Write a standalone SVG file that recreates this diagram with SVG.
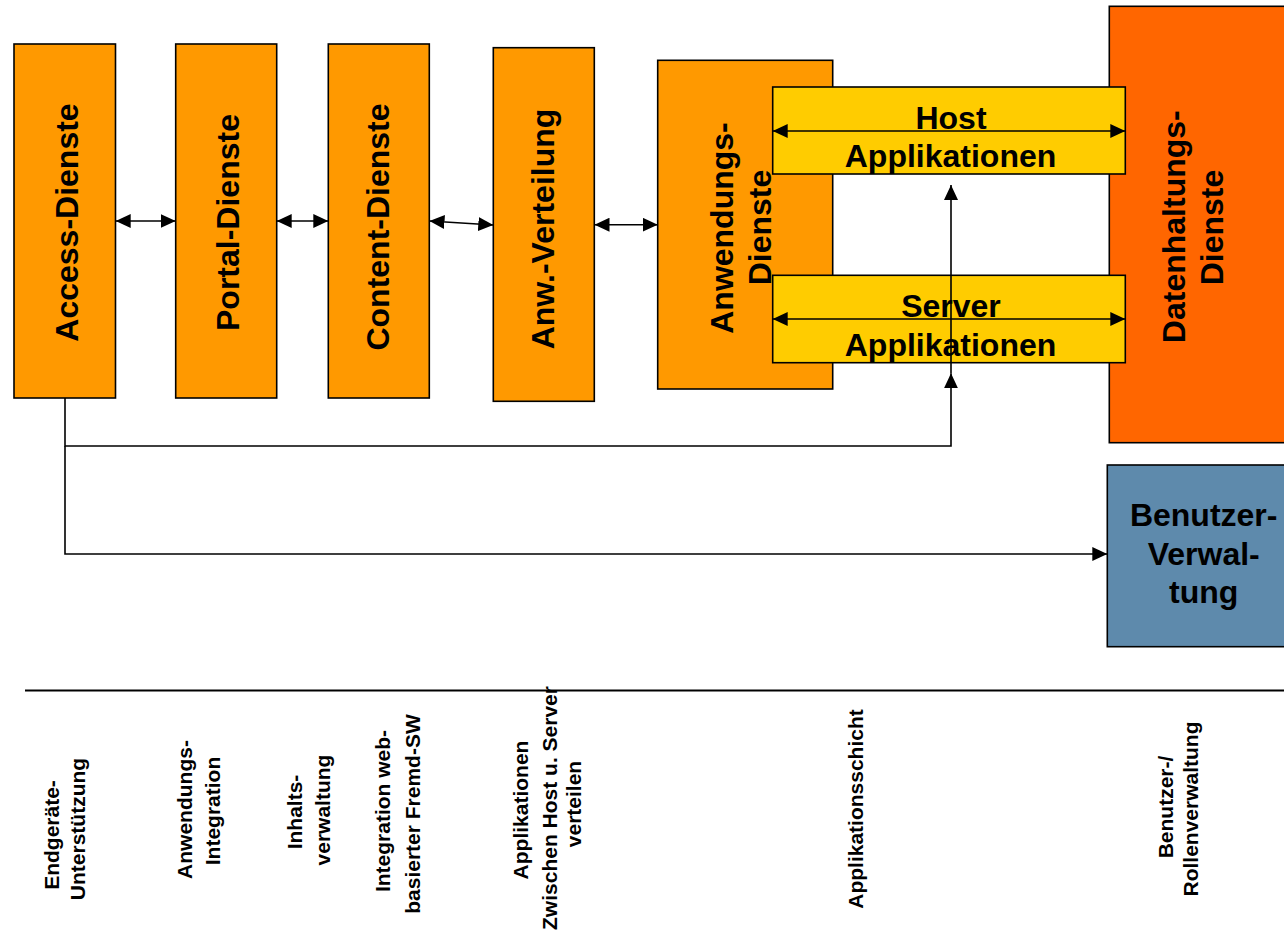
<svg xmlns="http://www.w3.org/2000/svg" width="1284" height="938" viewBox="0 0 1284 938">
  <style>
    .box { stroke: #000; stroke-width: 1.6; }
    .svc { fill: #FF9900; }
    .app { fill: #FFCC00; }
    .data { fill: #FF6600; }
    .user { fill: #5E8AAC; }
    .big { font-family: "Liberation Sans", Arial, sans-serif; font-weight: bold; font-size: 32px; fill: #000; text-anchor: middle; }
    .small { font-family: "Liberation Sans", Arial, sans-serif; font-weight: bold; font-size: 21px; fill: #000; text-anchor: middle; }
    .conn { fill: none; stroke: #000; stroke-width: 1.6; }
  </style>
  <defs>
    <marker id="arrow" markerUnits="userSpaceOnUse" markerWidth="16" markerHeight="14" refX="15" refY="7" orient="auto-start-reverse">
      <path d="M0,0 L15,7 L0,14 z" fill="#000"/>
    </marker>
  </defs>

  <rect width="1284" height="938" fill="#fff"/>

  <g id="access-dienste">
    <rect class="box svc" x="14" y="44" width="101.5" height="354"/>
    <text class="big" transform="translate(78,222.5) rotate(-90)">Access-Dienste</text>
  </g>

  <g id="portal-dienste">
    <rect class="box svc" x="175.7" y="44" width="101" height="354"/>
    <text class="big" transform="translate(239,222.5) rotate(-90)">Portal-Dienste</text>
  </g>

  <g id="content-dienste">
    <rect class="box svc" x="328.3" y="44" width="101" height="354"/>
    <text class="big" transform="translate(389,227) rotate(-90)">Content-Dienste</text>
  </g>

  <g id="anw-verteilung">
    <rect class="box svc" x="493.3" y="47.7" width="101" height="353.6"/>
    <text class="big" transform="translate(554,229) rotate(-90)">Anw.-Verteilung</text>
  </g>

  <g id="anwendungs-dienste">
    <rect class="box svc" x="657.7" y="60.3" width="175" height="328.7"/>
    <text class="big" transform="translate(733,228) rotate(-90)">Anwendungs-</text>
    <text class="big" transform="translate(771,227.5) rotate(-90)">Dienste</text>
  </g>

  <g id="datenhaltungs-dienste">
    <rect class="box data" x="1109.3" y="6.3" width="200" height="436.4"/>
    <text class="big" transform="translate(1185,226.7) rotate(-90)">Datenhaltungs-</text>
    <text class="big" transform="translate(1223,227.5) rotate(-90)">Dienste</text>
  </g>

  <g id="host-applikationen">
    <rect class="box app" x="772.7" y="87" width="352.6" height="87"/>
    <text class="big" x="951" y="129.3">Host</text>
    <text class="big" x="950.5" y="167.3">Applikationen</text>
  </g>

  <g id="server-applikationen">
    <rect class="box app" x="772.7" y="275.3" width="352.6" height="87.4"/>
    <text class="big" x="951" y="316.7">Server</text>
    <text class="big" x="950.5" y="356">Applikationen</text>
  </g>

  <g id="benutzer-verwaltung">
    <rect class="box user" x="1107.3" y="465" width="200" height="181.7"/>
    <text class="big" x="1203.7" y="526">Benutzer-</text>
    <text class="big" x="1203.7" y="565">Verwal-</text>
    <text class="big" x="1203.7" y="603.3">tung</text>
  </g>

  <g id="connectors">
    <line class="conn" x1="115.7" y1="221" x2="175.7" y2="221" marker-start="url(#arrow)" marker-end="url(#arrow)"/>
    <line class="conn" x1="276.7" y1="221" x2="328.3" y2="221" marker-start="url(#arrow)" marker-end="url(#arrow)"/>
    <line class="conn" x1="429.5" y1="221" x2="493.3" y2="225" marker-start="url(#arrow)" marker-end="url(#arrow)"/>
    <line class="conn" x1="594.5" y1="224.7" x2="657.7" y2="224.7" marker-start="url(#arrow)" marker-end="url(#arrow)"/>
    <line class="conn" x1="772.7" y1="131" x2="1125.3" y2="131" marker-start="url(#arrow)" marker-end="url(#arrow)"/>
    <line class="conn" x1="772.7" y1="319" x2="1125.3" y2="319" marker-start="url(#arrow)" marker-end="url(#arrow)"/>
    <polyline class="conn" points="65,398 65,446 951,446 951,373.3" marker-end="url(#arrow)"/>
    <line class="conn" x1="951" y1="373.3" x2="951" y2="185" marker-end="url(#arrow)"/>
    <polyline class="conn" points="65,446 65,554 1107.3,554" marker-end="url(#arrow)"/>
  </g>

  <g id="legend">
    <line x1="25" y1="690.5" x2="1284" y2="690.5" stroke="#000" stroke-width="2"/>
    <text class="small" transform="translate(59,835) rotate(-90)">Endgeräte-</text>
    <text class="small" transform="translate(85,829) rotate(-90)">Unterstützung</text>
    <text class="small" transform="translate(191.7,809.5) rotate(-90)">Anwendungs-</text>
    <text class="small" transform="translate(220,811) rotate(-90)">Integration</text>
    <text class="small" transform="translate(301.7,812) rotate(-90)">Inhalts-</text>
    <text class="small" transform="translate(330,810) rotate(-90)">verwaltung</text>
    <text class="small" transform="translate(390,811) rotate(-90)">Integration web-</text>
    <text class="small" transform="translate(420,814) rotate(-90)">basierter Fremd-SW</text>
    <text class="small" transform="translate(528.3,810) rotate(-90)">Applikationen</text>
    <text class="small" transform="translate(556.7,808) rotate(-90)">Zwischen Host u. Server</text>
    <text class="small" transform="translate(581,804) rotate(-90)">verteilen</text>
    <text class="small" transform="translate(863,809) rotate(-90)">Applikationsschicht</text>
    <text class="small" transform="translate(1173,807) rotate(-90)">Benutzer-/</text>
    <text class="small" transform="translate(1197.7,809) rotate(-90)">Rollenverwaltung</text>
  </g>
</svg>
